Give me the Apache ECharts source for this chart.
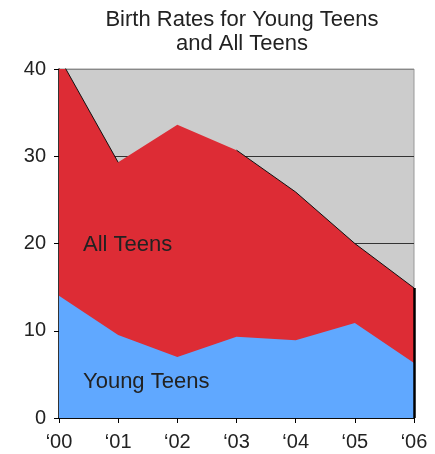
<!DOCTYPE html>
<html>
<head>
<meta charset="utf-8">
<script src="https://cdn.jsdelivr.net/npm/echarts@6/dist/echarts.min.js"></script>
<style>
html,body{margin:0;padding:0;background:#fff;}
#main{width:435px;height:454px;}
</style>
</head>
<body>
<div id="main"></div>
<script>
var years = ['\u201800', '\u201801', '\u201802', '\u201803', '\u201804', '\u201805', '\u201806'];
var allTeens = [41.4, 29.3, 33.6, 30.7, 25.9, 20.0, 14.9];
var youngTeens = [14.0, 9.5, 7.0, 9.3, 8.9, 10.9, 6.3];
// dark edge only shows on part of the red top
var allEdge = [41.4, 29.3, null, 30.7, 25.9, 20.0, 14.9];

var chart = echarts.init(document.getElementById('main'));
var font = 'Liberation Sans, Arial, sans-serif';

var option = {
    animation: false,
    title: {
        text: 'Birth Rates for Young Teens\nand All Teens',
        left: 237, top: 3, textAlign: 'center',
        textStyle: {fontFamily: font, fontSize: 22, fontWeight: 'normal', color: '#222', lineHeight: 24}
    },
    grid: {
        left: 59, right: 21, top: 69, bottom: 36,
        show: true, backgroundColor: '#cccccc', borderColor: '#999', borderWidth: 1
    },
    xAxis: {
        type: 'category', data: years, boundaryGap: false,
        axisLine: {lineStyle: {color: '#000', width: 1.5}},
        axisTick: {show: true, length: 5, alignWithLabel: true, lineStyle: {color: '#000'}},
        axisLabel: {fontFamily: font, fontSize: 20, color: '#222', margin: 14},
        splitLine: {show: false}
    },
    yAxis: {
        type: 'value', min: 0, max: 40, interval: 10,
        axisLine: {show: true, lineStyle: {color: '#000', width: 1.5}},
        axisTick: {show: true, length: 5, lineStyle: {color: '#000'}},
        axisLabel: {fontFamily: font, fontSize: 20, color: '#222', margin: 13},
        splitLine: {show: true, lineStyle: {color: ['#333', '#333', '#333', '#333', '#888'], width: 1}}
    },
    series: [
        {
            name: 'All Teens', type: 'line', data: allTeens,
            symbol: 'none', lineStyle: {width: 0},
            areaStyle: {color: '#dd2c35', opacity: 1}, itemStyle: {color: '#dd2c35'},
            markLine: {
                silent: true, symbol: 'none', label: {show: false},
                lineStyle: {color: '#000', width: 2.5, type: 'solid'},
                data: [[{coord: [years[6], 0]}, {coord: [years[6], allTeens[6]]}]]
            }
        },
        {
            name: 'All edge', type: 'line', data: allEdge,
            symbol: 'none', connectNulls: false,
            lineStyle: {color: '#111', width: 1}
        },
        {
            name: 'Young Teens', type: 'line', data: youngTeens,
            symbol: 'none', lineStyle: {width: 0},
            areaStyle: {color: '#60a8ff', opacity: 1}, itemStyle: {color: '#60a8ff'}
        }
    ],
    graphic: [
        {type: 'text', z: 100, left: 83, top: 234, style: {text: 'All Teens', font: '22px ' + font, fill: '#222'}},
        {type: 'text', z: 100, left: 83, top: 371, style: {text: 'Young Teens', font: '22px ' + font, fill: '#222'}}
    ]
};
chart.setOption(option);
</script>
</body>
</html>
